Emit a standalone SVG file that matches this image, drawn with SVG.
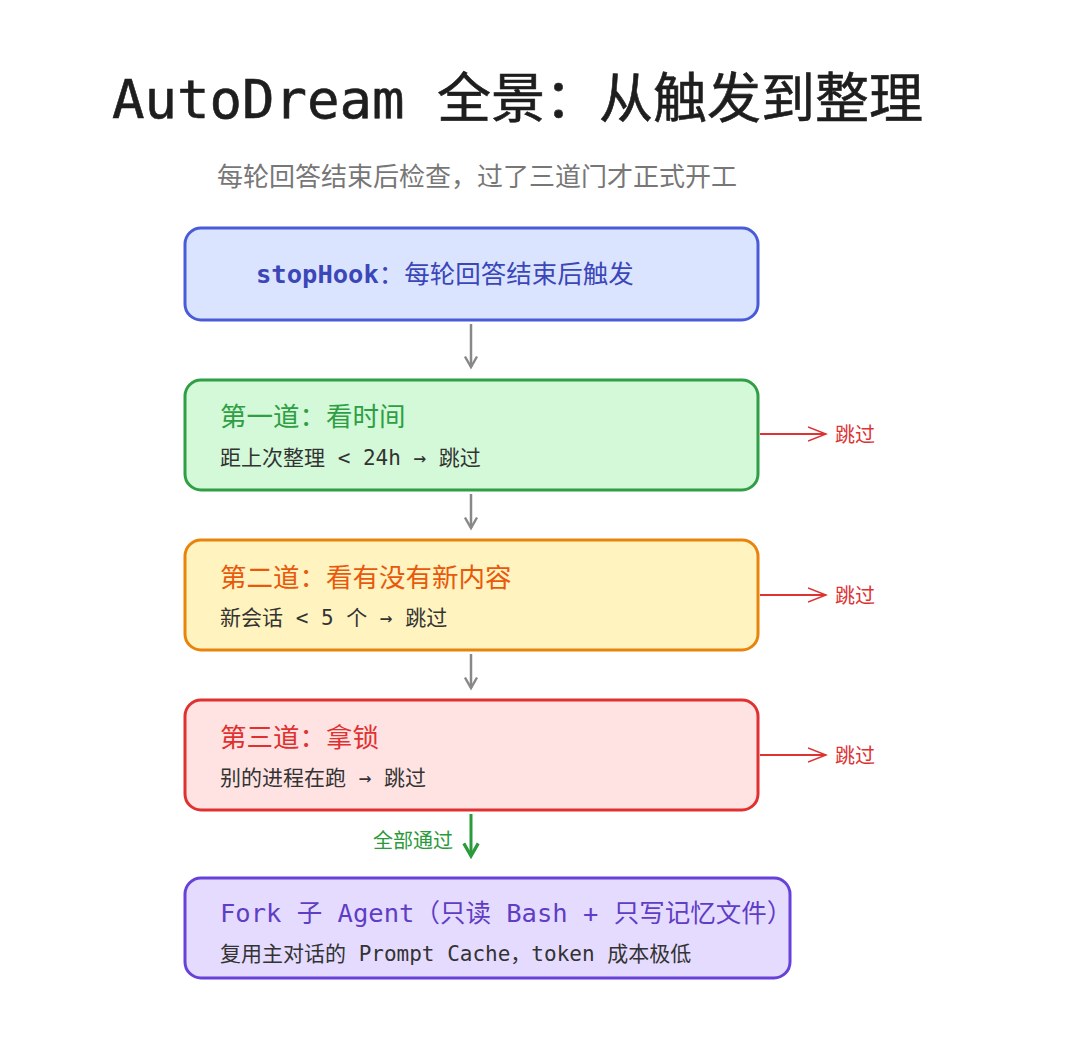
<svg xmlns="http://www.w3.org/2000/svg" width="1080" height="1057" viewBox="0 0 1080 1057">
<style>
.m{font-family:"DejaVu Sans Mono","Noto Sans CJK SC",monospace}
.s{font-family:"Noto Sans CJK SC","Noto Sans",sans-serif}
.box{stroke-width:3}
.h{font-size:26.5px}
.d{font-size:21px;fill:#333}
</style>
<defs>
<marker id="ag" viewBox="0 0 10 10" refX="8" refY="5" markerWidth="6" markerHeight="6" orient="auto"><path d="M1,1 L8,5 L1,9" fill="none" stroke="#888" stroke-width="1.6"/></marker>
<marker id="ar" viewBox="0 0 10 10" refX="9" refY="5" markerWidth="10" markerHeight="10" orient="auto"><path d="M0,1.5 L9,5 L0,8.5" fill="none" stroke="#d33" stroke-width="0.8"/></marker>
<marker id="agr" viewBox="0 0 10 10" refX="8" refY="5" markerWidth="6" markerHeight="6" orient="auto"><path d="M1,1 L8,5 L1,9" fill="none" stroke="#2a9a3a" stroke-width="1.8"/></marker>
</defs>
<rect width="1080" height="1057" fill="#fff"/>
<text x="112" y="118" class="m" font-size="54" fill="#1e1e1e" stroke="#1e1e1e" stroke-width="0.6">AutoDream 全景：从触发到整理</text>
<text x="477" y="186" class="s" font-size="26" fill="#777" text-anchor="middle">每轮回答结束后检查，过了三道门才正式开工</text>
<g id="stopHook"><rect x="185" y="228" width="573" height="92" rx="16" fill="#dbe4ff" stroke="#4a5bd8" class="box"/>
<text x="256" y="283" class="m" font-size="25.5" fill="#3b46b8" font-weight="bold">stopHook<tspan class="s" font-weight="normal">：每轮回答结束后触发</tspan></text></g>
<g id="gate1"><rect x="185" y="380" width="573" height="110" rx="16" fill="#d3f9d8" stroke="#2f9e44" class="box"/>
<text x="220" y="426" class="s h" fill="#2f9e44">第一道：看时间</text>
<text x="220" y="465" class="m d">距上次整理 &lt; 24h → 跳过</text></g>
<g id="gate2"><rect x="185" y="540" width="573" height="110" rx="16" fill="#fff3bf" stroke="#e8830c" class="box"/>
<text x="220" y="587" class="s h" fill="#e8590c">第二道：看有没有新内容</text>
<text x="220" y="625" class="m d">新会话 &lt; 5 个 → 跳过</text></g>
<g id="gate3"><rect x="185" y="700" width="573" height="110" rx="16" fill="#ffe3e3" stroke="#e03131" class="box"/>
<text x="220" y="747" class="s h" fill="#e03131">第三道：拿锁</text>
<text x="220" y="785" class="m d">别的进程在跑 → 跳过</text></g>
<g id="fork"><rect x="185" y="878" width="605" height="100" rx="16" fill="#e5dbff" stroke="#6741d9" class="box"/>
<text x="220" y="922" class="m" font-size="25.5" fill="#5f3dc4">Fork 子 Agent（只读 Bash + 只写记忆文件）</text>
<text x="220" y="961" class="m d">复用主对话的 Prompt Cache，token 成本极低</text></g>
<g id="connectors" fill="none">
<line x1="471" y1="324" x2="471" y2="367" stroke="#888" stroke-width="2.5" marker-end="url(#ag)"/>
<line x1="471" y1="494" x2="471" y2="528" stroke="#888" stroke-width="2.5" marker-end="url(#ag)"/>
<line x1="471" y1="654" x2="471" y2="688" stroke="#888" stroke-width="2.5" marker-end="url(#ag)"/>
<line x1="471" y1="814" x2="471" y2="856" stroke="#2a9a3a" stroke-width="3" marker-end="url(#agr)"/>
<line x1="760" y1="434" x2="826" y2="434" stroke="#d33" stroke-width="2" marker-end="url(#ar)"/>
<line x1="760" y1="595" x2="826" y2="595" stroke="#d33" stroke-width="2" marker-end="url(#ar)"/>
<line x1="760" y1="755" x2="826" y2="755" stroke="#d33" stroke-width="2" marker-end="url(#ar)"/>
</g>
<g class="s" font-size="20">
<text x="835" y="442" fill="#d33">跳过</text>
<text x="835" y="603" fill="#d33">跳过</text>
<text x="835" y="763" fill="#d33">跳过</text>
<text x="453" y="848" fill="#2a9a3a" text-anchor="end">全部通过</text>
</g>
</svg>
